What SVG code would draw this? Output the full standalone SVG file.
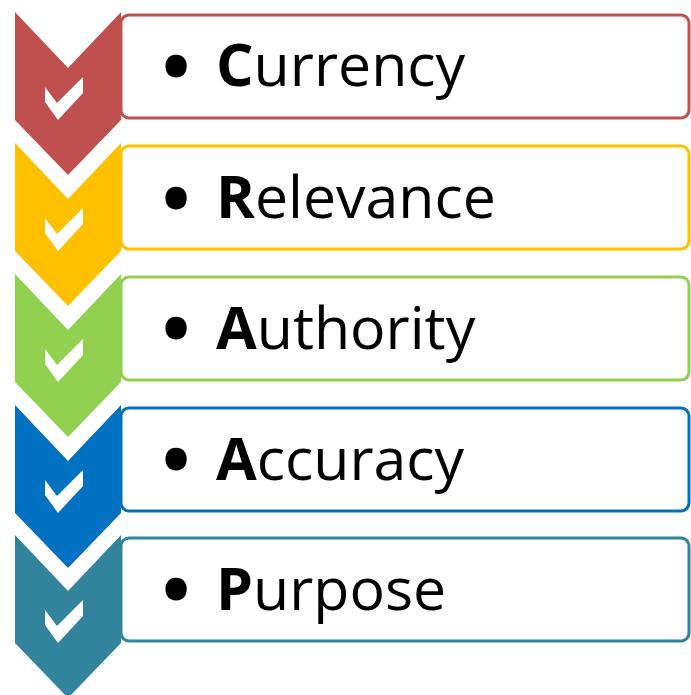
<svg xmlns="http://www.w3.org/2000/svg" width="691" height="695" viewBox="0 0 691 695">
<style>
.box{fill:#fff;stroke-width:3}
.chk{fill:#fff}
.lbl{font-family:"Open Sans","Liberation Sans",sans-serif;font-size:59px;fill:#000}
.bul{stroke:#000;stroke-width:9;stroke-linejoin:round}
.b{font-weight:bold}
</style>
<defs>
<polygon id="chev" points="15,0 68,56 121,0 121,108 68,163 15,108"/>
<polygon id="tick" points="45,75 57,91 83,65 83,81 58,108 45,90"/>
</defs>
<rect width="691" height="695" fill="#fff"/>
<g id="connectors"></g>
<g id="n1">
<rect class="box" x="121" y="15" width="568" height="103" rx="8" stroke="#C0504D"/>
<use href="#chev" y="12" fill="#C0504D"/>
<use href="#tick" y="12" class="chk"/>
<text class="lbl"><tspan x="165" y="88" class="bul">•</tspan><tspan x="216" y="86" class="b">C</tspan><tspan>urrency</tspan></text>
</g>
<g id="n2">
<rect class="box" x="121" y="146" width="568" height="103" rx="8" stroke="#FFC000"/>
<use href="#chev" y="143" fill="#FFC000"/>
<use href="#tick" y="143" class="chk"/>
<text class="lbl"><tspan x="165" y="220" class="bul">•</tspan><tspan x="216" y="218" class="b">R</tspan><tspan>elevance</tspan></text>
</g>
<g id="n3">
<rect class="box" x="121" y="277" width="568" height="103" rx="8" stroke="#92D050"/>
<use href="#chev" y="274" fill="#92D050"/>
<use href="#tick" y="274" class="chk"/>
<text class="lbl"><tspan x="165" y="350" class="bul">•</tspan><tspan x="216" y="349" class="b">A</tspan><tspan>uthority</tspan></text>
</g>
<g id="n4">
<rect class="box" x="121" y="408" width="568" height="103" rx="8" stroke="#0070C0"/>
<use href="#chev" y="405" fill="#0070C0"/>
<use href="#tick" y="405" class="chk"/>
<text class="lbl"><tspan x="165" y="481" class="bul">•</tspan><tspan x="216" y="480" class="b">A</tspan><tspan>ccuracy</tspan></text>
</g>
<g id="n5">
<rect class="box" x="121" y="538" width="568" height="103" rx="8" stroke="#31849B"/>
<use href="#chev" y="535" fill="#31849B"/>
<use href="#tick" y="535" class="chk"/>
<text class="lbl"><tspan x="165" y="611" class="bul">•</tspan><tspan x="216" y="610" class="b">P</tspan><tspan>urpose</tspan></text>
</g>
</svg>
